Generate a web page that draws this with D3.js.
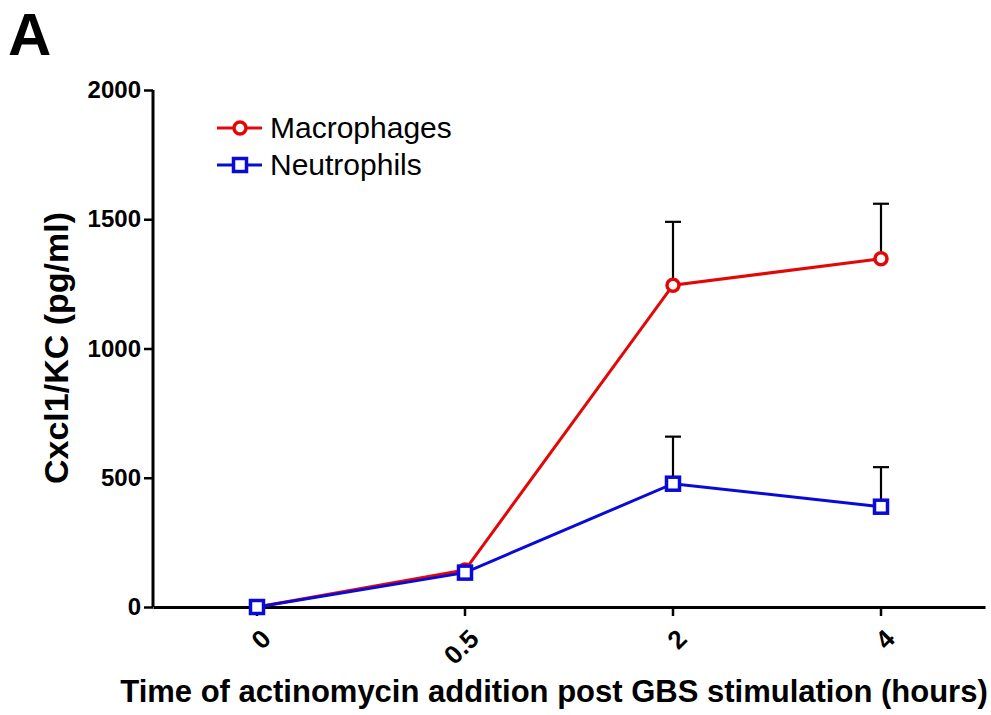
<!DOCTYPE html>
<html>
<head>
<meta charset="utf-8">
<script src="https://cdn.jsdelivr.net/npm/d3@7"></script>
<style>
  html, body { margin: 0; padding: 0; background: #fff; }
  svg { display: block; font-family: "Liberation Sans", Arial, sans-serif; }
</style>
</head>
<body>
<svg id="chart" width="991" height="715"></svg>
<script>
// Cxcl1/KC release after actinomycin addition, by cell type
const timepoints = ["0", "0.5", "2", "4"];
const macrophageMean = [0, 143, 1245, 1347];
const macrophageSEM  = [0, 0, 245, 213];
const neutrophilMean = [0, 133, 477, 388];
const neutrophilSEM  = [0, 0, 182, 153];
const yTicks = [0, 500, 1000, 1500, 2000];

const series = [
  { name: "Macrophages", color: "#e30808", shape: "circle", mean: macrophageMean, sem: macrophageSEM },
  { name: "Neutrophils", color: "#0a0ad8", shape: "square", mean: neutrophilMean, sem: neutrophilSEM }
];

const svg = d3.select("#chart");
const plotLeft = 153, plotRight = 985, plotTop = 90, plotBottom = 607;

const x = d3.scaleBand().domain(timepoints).range([plotLeft, plotRight]);
const y = d3.scaleLinear().domain([0, 2000]).range([plotBottom, plotTop]);
const cx = t => x(t) + x.bandwidth() / 2;

// panel letter
svg.append("text").attr("x", 8).attr("y", 55)
  .attr("font-size", 60).attr("font-weight", "bold").text("A");

// y axis
const yAxis = svg.append("g").attr("transform", `translate(${plotLeft},0)`)
  .call(d3.axisLeft(y).tickValues(yTicks).tickSize(9).tickPadding(3).tickFormat(d3.format("d")));
yAxis.select(".domain").attr("stroke-width", 3).attr("d", `M0,${plotTop}H0V${plotBottom}`);
yAxis.selectAll(".tick line").attr("stroke-width", 2.5);
yAxis.selectAll(".tick text").attr("font-size", 24).attr("font-weight", "bold")
  .attr("font-family", "Liberation Sans, Arial, sans-serif").attr("fill", "#000");

// x axis
const xAxis = svg.append("g").attr("transform", `translate(0,${plotBottom})`)
  .call(d3.axisBottom(x).tickSize(9).tickSizeOuter(0));
xAxis.select(".domain").attr("stroke-width", 3);
xAxis.selectAll(".tick line").attr("stroke-width", 2.5);
xAxis.selectAll(".tick text")
  .attr("font-size", 26).attr("font-weight", "bold").attr("fill", "#000")
  .attr("font-family", "Liberation Sans, Arial, sans-serif")
  .attr("text-anchor", "end").attr("dy", "0.35em")
  .attr("transform", "translate(9,27) rotate(-45)")
  .attr("x", 0).attr("y", 0);

// axis titles
svg.append("text").attr("x", 554).attr("y", 702).attr("text-anchor", "middle")
  .attr("font-size", 31).attr("font-weight", "bold").text("Time of actinomycin addition post GBS stimulation (hours)");
svg.append("text").attr("transform", "translate(68,348) rotate(-90)").attr("text-anchor", "middle")
  .attr("font-size", 34).attr("font-weight", "bold").text("Cxcl1/KC (pg/ml)");

// error bars (upper only)
series.forEach(s => {
  const g = svg.append("g");
  timepoints.forEach((t, i) => {
    if (!s.sem[i]) return;
    const yTop = y(s.mean[i] + s.sem[i]);
    g.append("line").attr("x1", cx(t)).attr("x2", cx(t)).attr("y1", y(s.mean[i])).attr("y2", yTop)
      .attr("stroke", "#000").attr("stroke-width", 2.2);
    g.append("line").attr("x1", cx(t) - 8).attr("x2", cx(t) + 8).attr("y1", yTop).attr("y2", yTop)
      .attr("stroke", "#000").attr("stroke-width", 2.2);
  });
});

function drawMarker(g, shape, color, px, py) {
  if (shape === "circle") {
    g.append("circle").attr("cx", px).attr("cy", py).attr("r", 6)
      .attr("fill", "#fff").attr("stroke", color).attr("stroke-width", 3.5);
  } else {
    g.append("rect").attr("x", px - 6.5).attr("y", py - 6.5).attr("width", 13).attr("height", 13)
      .attr("fill", "#fff").attr("stroke", color).attr("stroke-width", 3.5);
  }
}

// lines and markers
const line = d3.line().x((d, i) => cx(timepoints[i])).y(d => y(d));
series.forEach(s => {
  const g = svg.append("g");
  g.append("path").attr("d", line(s.mean)).attr("fill", "none")
    .attr("stroke", s.color).attr("stroke-width", 3);
  s.mean.forEach((v, i) => drawMarker(g, s.shape, s.color, cx(timepoints[i]), y(v)));
});

// legend
series.forEach((s, i) => {
  const ly = 128 + i * 37;
  const g = svg.append("g");
  g.append("line").attr("x1", 217).attr("x2", 262).attr("y1", ly).attr("y2", ly)
    .attr("stroke", s.color).attr("stroke-width", 3);
  drawMarker(g, s.shape, s.color, 240, ly);
  g.append("text").attr("x", 270).attr("y", ly + 10).attr("font-size", 30).text(s.name);
});
</script>
</body>
</html>
